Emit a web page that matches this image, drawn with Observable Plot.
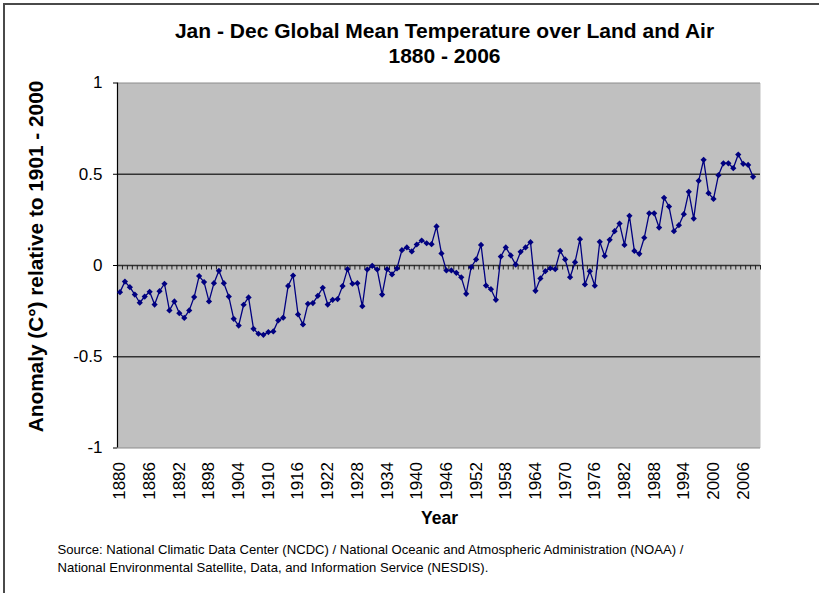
<!DOCTYPE html>
<html>
<head>
<meta charset="utf-8">
<script src="https://cdn.jsdelivr.net/npm/d3@7"></script>
<script src="https://cdn.jsdelivr.net/npm/@observablehq/plot@0.6"></script>
<style>
  html, body { margin: 0; padding: 0; background: #fff; }
  #wrap { position: relative; width: 819px; height: 593px; overflow: hidden; }
  #edge { position: absolute; left: 3px; top: 3px; width: 830px; height: 600px;
          border-top: 2px solid #4a4a4a; border-left: 2px solid #4a4a4a; pointer-events: none; }
  #wrap svg { position: absolute; left: 0; top: 0; }
</style>
</head>
<body>
<div id="wrap"><div id="edge"></div></div>
<script>
// Annual (Jan - Dec) global mean temperature anomaly over land and air, °C relative to 1901-2000
const years = d3.range(1880, 2009);
const anomaly = [
  -0.146, -0.088, -0.119, -0.159, -0.204, -0.170, -0.144, -0.214, -0.141, -0.100, // 1880s
  -0.246, -0.197, -0.261, -0.287, -0.246, -0.173, -0.058, -0.091, -0.197, -0.097, // 1890s
  -0.029, -0.097, -0.170, -0.292, -0.329, -0.215, -0.175, -0.347, -0.374, -0.380, // 1900s
  -0.365, -0.361, -0.301, -0.286, -0.112, -0.055, -0.268, -0.323, -0.210, -0.206, // 1910s
  -0.166, -0.122, -0.214, -0.188, -0.184, -0.113, -0.020, -0.100, -0.097, -0.223, // 1920s
  -0.022, -0.002, -0.022, -0.159, -0.020, -0.049, -0.016,  0.084,  0.099,  0.077, // 1930s
   0.115,  0.137,  0.122,  0.117,  0.214,  0.066, -0.027, -0.027, -0.040, -0.065, // 1940s
  -0.155, -0.009,  0.033,  0.113, -0.110, -0.130, -0.188,  0.049,  0.099,  0.055, // 1950s
   0.005,  0.075,  0.099,  0.128, -0.139, -0.071, -0.031, -0.015, -0.020,  0.080, // 1960s
   0.033, -0.064,  0.018,  0.144, -0.104, -0.031, -0.111,  0.130,  0.052,  0.141, // 1970s
   0.188,  0.230,  0.113,  0.272,  0.080,  0.064,  0.152,  0.286,  0.286,  0.208, // 1980s
   0.371,  0.323,  0.188,  0.221,  0.281,  0.404,  0.257,  0.464,  0.579,  0.396, // 1990s
   0.365,  0.495,  0.560,  0.560,  0.533,  0.608,  0.557,  0.551,  0.486          // 2000s
];

// Axis ticks and labels
const yearTicks = [1880, 1886, 1892, 1898, 1904, 1910, 1916, 1922, 1928, 1934, 1940,
                   1946, 1952, 1958, 1964, 1970, 1976, 1982, 1988, 1994, 2000, 2006];
const yTicks = [-1, -0.5, 0, 0.5, 1];
const xDomain = [1879.5, 2009.5];      // one category slot per year
const categoryEdges = d3.range(xDomain[0], xDomain[1] + 0.5, 1);

const titleLines = ["Jan - Dec Global Mean Temperature over Land and Air", "1880 - 2006"];
const yLabel = "Anomaly (C°) relative to 1901 - 2000";
const xLabel = "Year";
const sourceLines = [
  "Source: National Climatic Data Center (NCDC) / National Oceanic and Atmospheric Administration (NOAA) /",
  "National Environmental Satellite, Data, and Information Service (NESDIS)."
];

const rows = years.map((year, i) => ({year, anomaly: anomaly[i]}));

const font = "'Liberation Sans', Arial, Helvetica, sans-serif";
const navy = "#000080";

// a single line of text placed relative to the plot frame
const label = (str, options) =>
  Plot.text([str], {text: d => d, lineAnchor: "middle", ...options});

const chart = Plot.plot({
  width: 819,
  height: 593,
  marginLeft: 117,
  marginRight: 59,
  marginTop: 82.5,
  marginBottom: 145.5,
  style: {fontFamily: font, background: "transparent", overflow: "visible", color: "#000"},
  x: {domain: xDomain},
  y: {domain: [-1, 1]},
  marks: [
    Plot.frame({fill: "#c0c0c0", stroke: null}),
    Plot.ruleY([-1, 1], {stroke: "#8c8c8c", strokeWidth: 1}),
    Plot.ruleY([-0.5, 0.5], {stroke: "#333", strokeWidth: 1.4}),
    // zero line with a small tick at each year boundary
    Plot.ruleY([0], {stroke: "#333", strokeWidth: 1.4}),
    Plot.ruleX(categoryEdges, {x: d => d, y1: 0, y2: 0, insetBottom: -4.5, stroke: "#222", strokeWidth: 1}),
    Plot.ruleX([xDomain[0]], {stroke: "#000", strokeWidth: 1.2}),
    Plot.axisY({ticks: yTicks, tickSize: 4, tickPadding: 11, fontSize: 17, label: null,
                tickFormat: d => String(d), stroke: "#000"}),
    Plot.axisX({ticks: yearTicks, tickSize: 0, tickPadding: 14, tickRotate: -90, fontSize: 17,
                label: null, tickFormat: d => String(d)}),
    Plot.line(rows, {x: "year", y: "anomaly", stroke: navy, strokeWidth: 1.3}),
    Plot.dot(rows, {x: "year", y: "anomaly", symbol: "diamond2", r: 2.8, fill: navy, stroke: null}),
    // titles and labels
    label(titleLines[0], {frameAnchor: "top", textAnchor: "middle", dx: 5.5, dy: -52, fontSize: 21, fontWeight: "bold"}),
    label(titleLines[1], {frameAnchor: "top", textAnchor: "middle", dx: 5.5, dy: -27, fontSize: 21, fontWeight: "bold"}),
    label(yLabel, {frameAnchor: "left", textAnchor: "middle", rotate: -90, dx: -81, dy: -9,
                   fontSize: 20.8, fontWeight: "bold"}),
    label(xLabel, {frameAnchor: "bottom", textAnchor: "middle", dx: 0.5, dy: 70.5, fontSize: 17.5, fontWeight: "bold"}),
    label(sourceLines[0], {frameAnchor: "bottom-left", textAnchor: "start", dx: -60, dy: 102, fontSize: 13.1}),
    label(sourceLines[1], {frameAnchor: "bottom-left", textAnchor: "start", dx: -60, dy: 120, fontSize: 13.1})
  ]
});

document.getElementById("wrap").prepend(chart);
</script>
</body>
</html>
